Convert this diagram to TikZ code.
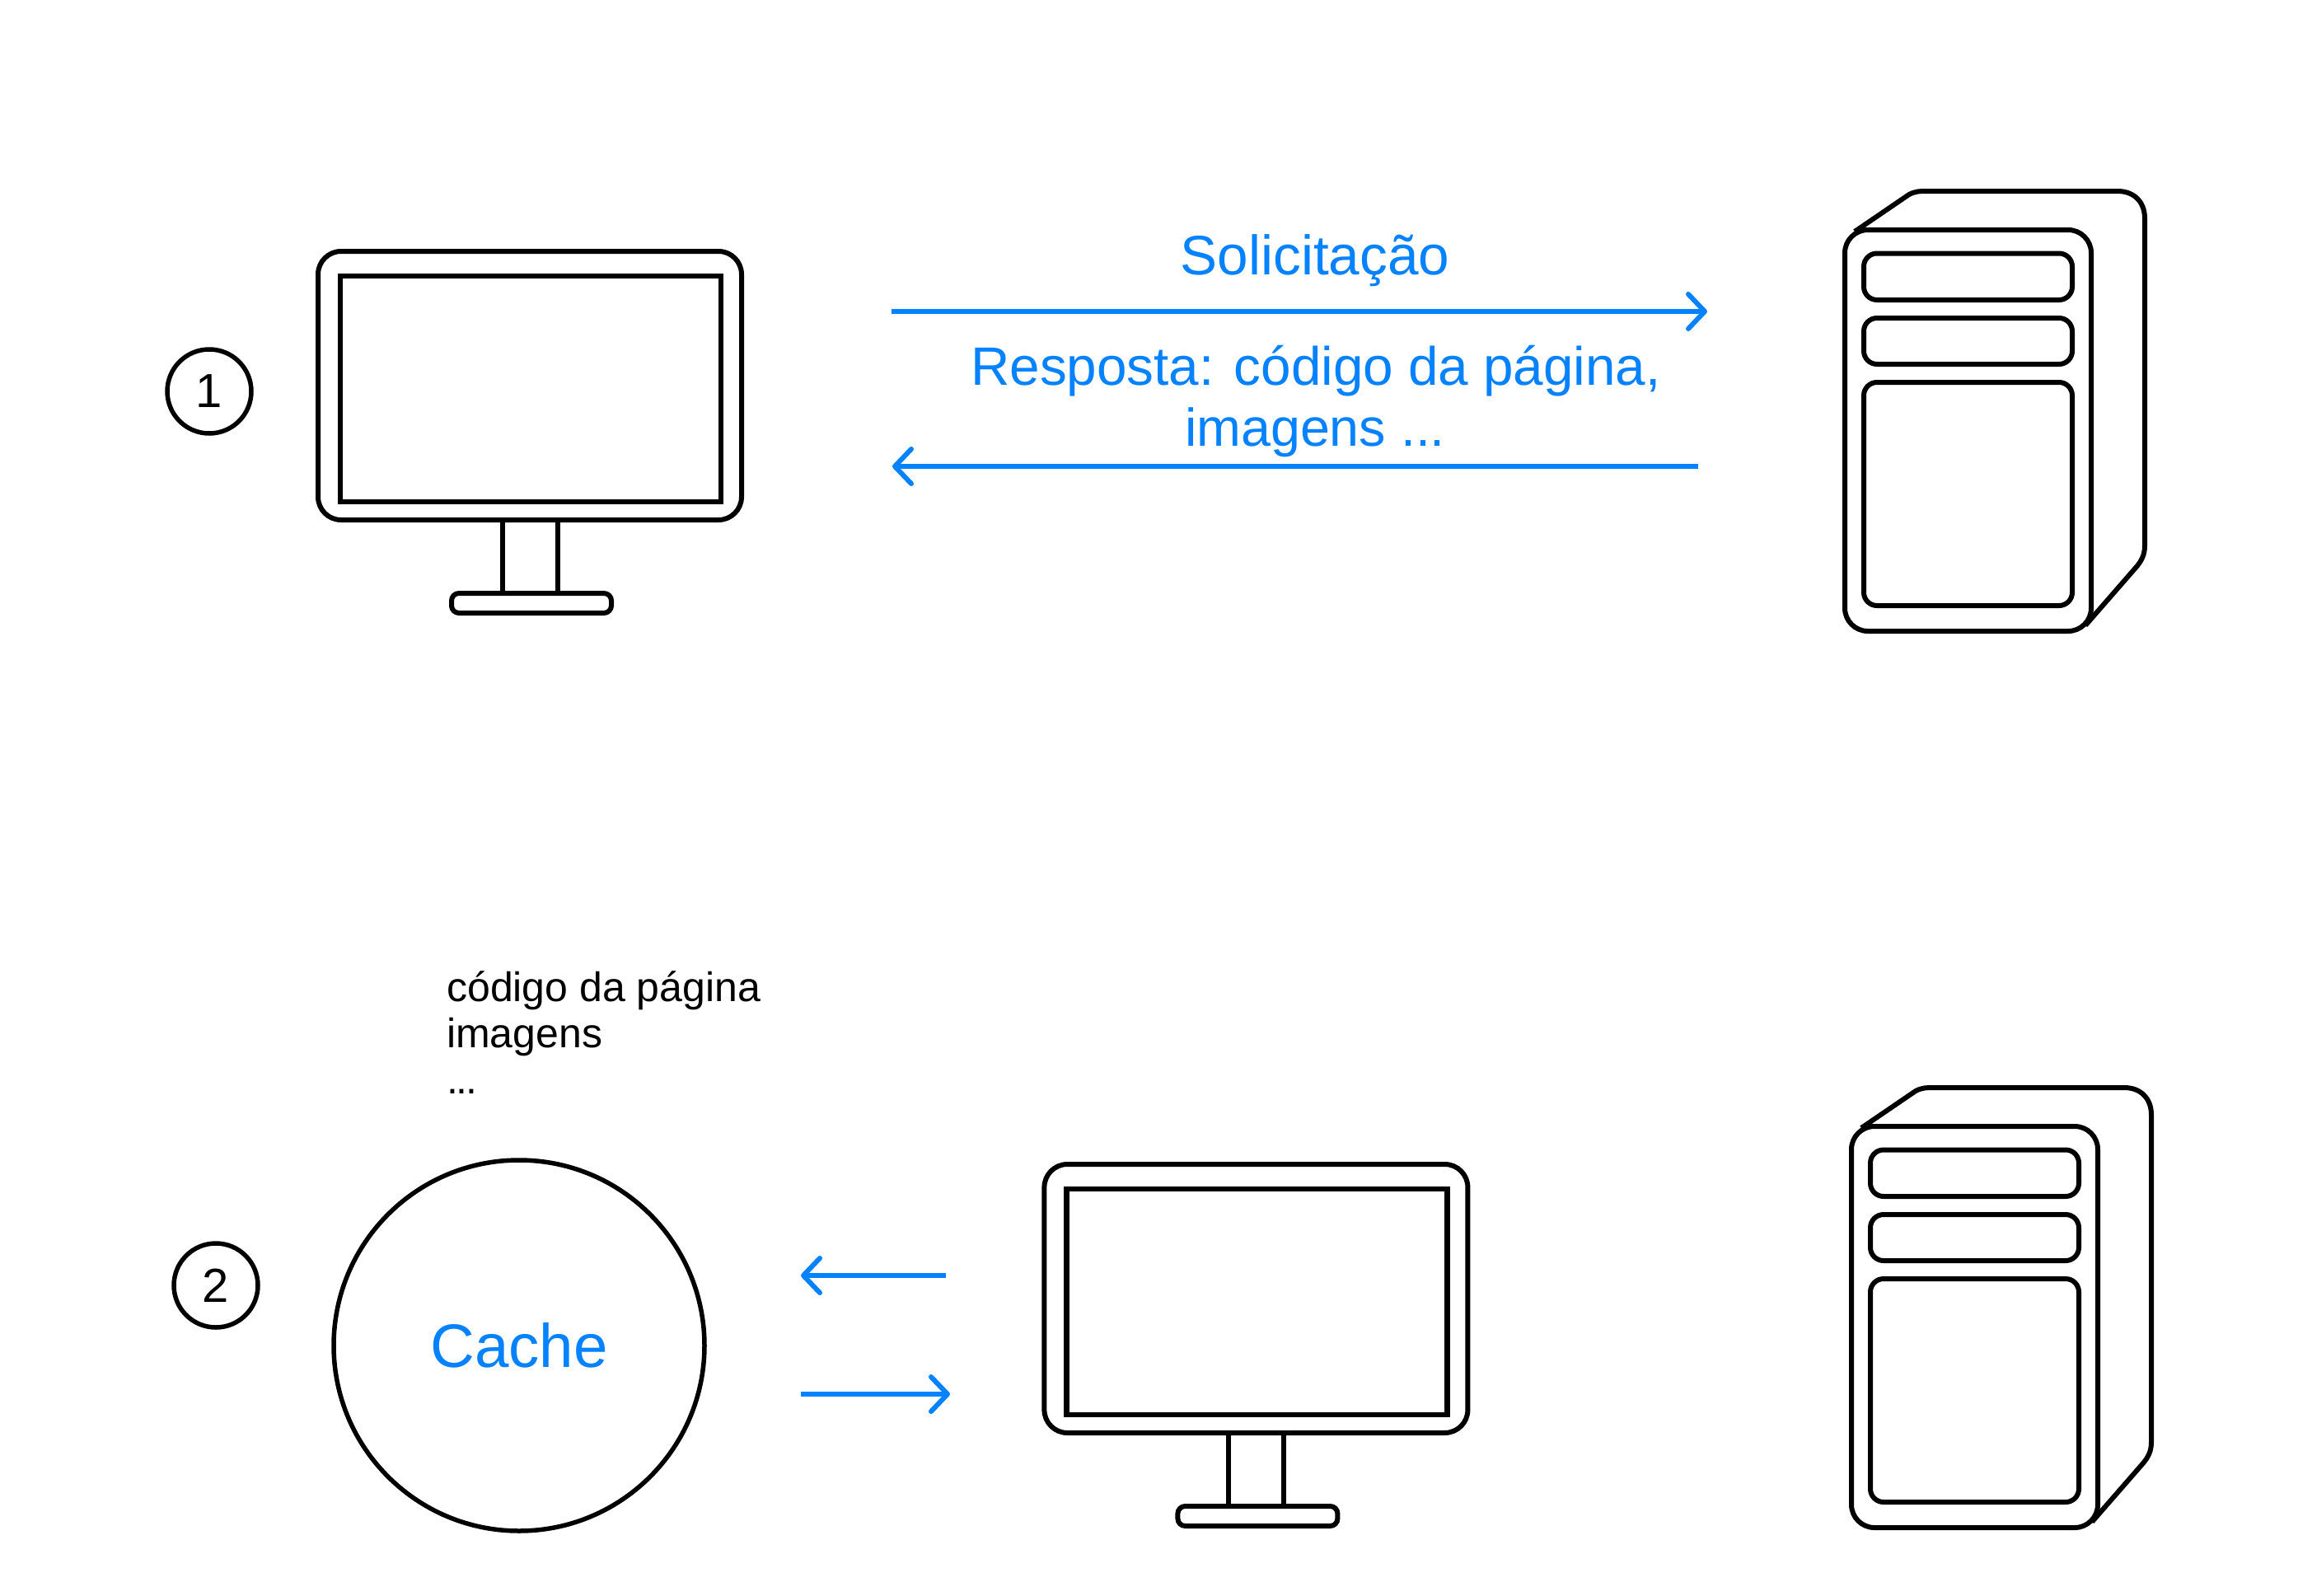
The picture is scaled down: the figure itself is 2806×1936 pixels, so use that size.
\documentclass[tikz,border=0pt]{standalone}
\usepackage{fontspec}
\setmainfont{Liberation Sans}
\usetikzlibrary{arrows.meta}
\definecolor{azul}{HTML}{0582FF}
\tikzset{
  x=1pt,y=-1pt,
  lineart/.style={draw=black,line width=6pt,fill=none},
  flecha/.style={draw=azul,line width=6pt,-{Straight Barb[length=20pt,width=42pt,round,line width=6pt]}},
  azultxt/.style={text=azul,inner sep=0pt,anchor=base,align=center},
  pretotxt/.style={text=black,inner sep=0pt,anchor=base west,font=\fontsize{50pt}{50pt}\selectfont},
  numcirc/.style={circle,draw=black,line width=5.5pt,minimum size=102pt,inner sep=0pt,font=\fontsize{58pt}{58pt}\selectfont},
}
\newcommand{\monitor}[2]{%
\begin{scope}[shift={(#1,#2)}]
  \draw[lineart,rounded corners=28pt] (386,305) rectangle (900,631);
  \draw[lineart,line width=6.5pt] (413,335) rectangle (875,609);
  \draw[lineart] (610,631) -- (610,720);
  \draw[lineart] (677,631) -- (677,720);
  \draw[lineart,rounded corners=9pt] (548,720) rectangle (742,744);
\end{scope}}
\newcommand{\torre}[2]{%
\begin{scope}[shift={(#1,#2)}]
  \draw[lineart,rounded corners=28pt] (2239,279) rectangle (2538,766);
  \draw[lineart] (2251,281) -- (2317,236) .. controls (2325,232) and (2330,232) .. (2338,232)
     -- (2570,232) .. controls (2590,232) and (2603,245) .. (2603,265) -- (2603,662)
     .. controls (2603,672) and (2600,680) .. (2592,689) -- (2531,759);
  \draw[lineart,rounded corners=16pt] (2262,307.5) rectangle (2515,364);
  \draw[lineart,rounded corners=16pt] (2262,386) rectangle (2515,442);
  \draw[lineart,rounded corners=16pt] (2262,464) rectangle (2515,735);
\end{scope}}
\begin{document}
\begin{tikzpicture}
\useasboundingbox (0,0) rectangle (2806,1936);
\fill[white] (0,0) rectangle (2806,1936);
\monitor{0}{0}
\monitor{881.4}{1108}
\torre{0}{0}
\torre{8}{1088}
% numbered circles
\node[numcirc] (um) at (254,475) {1};
\node[numcirc] (dois) at (262,1560) {2};
\node[circle,draw=black,line width=5.5pt,minimum size=450pt,inner sep=0pt,text=azul,font=\fontsize{74.5pt}{74.5pt}\selectfont] (cache) at (630,1633) {Cache};
% arrows
\coordinate (a1) at (1082,378); \coordinate (b1) at (2072,378);
\coordinate (a2) at (2061,566); \coordinate (b2) at (1083,566);
\coordinate (a3) at (1148,1548); \coordinate (b3) at (972,1548);
\coordinate (a4) at (972,1692); \coordinate (b4) at (1153,1692);
\draw[flecha] (a1) -- (b1);
\draw[flecha] (a2) -- (b2);
\draw[flecha] (a3) -- (b3);
\draw[flecha] (a4) -- (b4);
% labels
\node[azultxt,font=\fontsize{67.5pt}{67.5pt}\selectfont] (sol) at (1596,333) {Solicitação};
\node[azultxt,font=\fontsize{65.6pt}{65.6pt}\selectfont] (resp) at (1597,467) {Resposta: código da página,};
\node[azultxt,font=\fontsize{64.6pt}{64.6pt}\selectfont] (img) at (1596,541) {imagens ...};
\node[pretotxt] (c1) at (542,1215) {código da página};
\node[pretotxt] (c2) at (542,1271) {imagens};
\node[pretotxt] (c3) at (542,1327) {.\kern-2.5pt.\kern-2.5pt.};
\end{tikzpicture}
\end{document}
